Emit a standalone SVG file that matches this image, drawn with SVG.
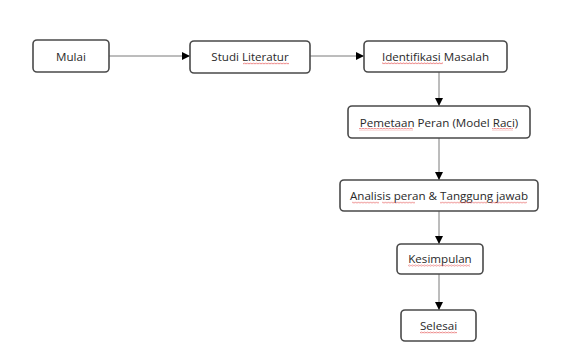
<svg xmlns="http://www.w3.org/2000/svg" width="564" height="349" viewBox="0 0 564 349">
<defs>
<style>
.box{fill:#fff;stroke:#4a4a4a;stroke-width:1.6}
.lbl{font-family:"Open Sans","Liberation Sans",sans-serif;font-size:11.6px;fill:#2a2a2a;text-anchor:middle}
.con{stroke:#7a7a7a;stroke-width:1;fill:none}
.sq{fill:url(#wavy)}
</style>
<pattern id="wavy" x="0" y="0" width="3" height="2.4" patternUnits="userSpaceOnUse">
<path d="M0,1.9 L1.5,0.5 L3,1.9" stroke="#e03a3a" stroke-width="0.7" fill="none"/>
</pattern>
<marker id="ah" viewBox="0 0 10 10" refX="10" refY="5" markerWidth="8" markerHeight="8" markerUnits="userSpaceOnUse" orient="auto">
<path d="M0,0 L10,5 L0,10 z" fill="#000"/>
</marker>
</defs>
<rect width="564" height="349" fill="#fff"/>
<g id="connectors">
<line class="con" x1="109" y1="56" x2="190" y2="56" marker-end="url(#ah)"/>
<line class="con" x1="310" y1="56" x2="364" y2="56" marker-end="url(#ah)"/>
<line class="con" x1="439" y1="72" x2="439" y2="106" marker-end="url(#ah)"/>
<line class="con" x1="439" y1="138" x2="439" y2="180" marker-end="url(#ah)"/>
<line class="con" x1="439" y1="211" x2="439" y2="244" marker-end="url(#ah)"/>
<line class="con" x1="439" y1="274" x2="439" y2="310" marker-end="url(#ah)"/>
</g>
<g id="mulai">
<rect class="box" x="33" y="40" width="76" height="32" rx="4"/>
<text class="lbl" x="71" y="60.5">Mulai</text>
</g>
<g id="studi">
<rect class="box" x="190" y="41" width="120" height="32" rx="4"/>
<text class="lbl" x="250" y="61">Studi Literatur</text>
<rect class="sq" x="243" y="62.5" width="46" height="2.4"/>
</g>
<g id="identifikasi">
<rect class="box" x="364" y="41" width="143" height="31" rx="4"/>
<text class="lbl" x="435.5" y="60.5">Identifikasi Masalah</text>
<rect class="sq" x="382" y="62" width="61" height="2.4"/>
</g>
<g id="pemetaan">
<rect class="box" x="348" y="106" width="182" height="32" rx="4"/>
<text class="lbl" x="439" y="126.5">Pemetaan Peran (Model Raci)</text>
<rect class="sq" x="359" y="128" width="54" height="2.4"/>
<rect class="sq" x="492" y="128" width="21" height="2.4"/>
</g>
<g id="analisis">
<rect class="box" x="340" y="180" width="198" height="31" rx="4"/>
<text class="lbl" x="439" y="200">Analisis peran &amp; Tanggung jawab</text>
<rect class="sq" x="352" y="201.5" width="27" height="2.4"/>
<rect class="sq" x="382" y="201.5" width="33" height="2.4"/>
<rect class="sq" x="440" y="201.5" width="47" height="2.4"/>
<rect class="sq" x="490" y="201.5" width="37" height="2.4"/>
</g>
<g id="kesimpulan">
<rect class="box" x="397" y="244" width="86" height="30" rx="4"/>
<text class="lbl" x="440" y="263">Kesimpulan</text>
<rect class="sq" x="408" y="264.5" width="62" height="2.4"/>
</g>
<g id="selesai">
<rect class="box" x="401" y="310" width="75" height="31" rx="4"/>
<text class="lbl" x="438.5" y="330">Selesai</text>
<rect class="sq" x="420" y="331.5" width="37" height="2.4"/>
</g>
</svg>
